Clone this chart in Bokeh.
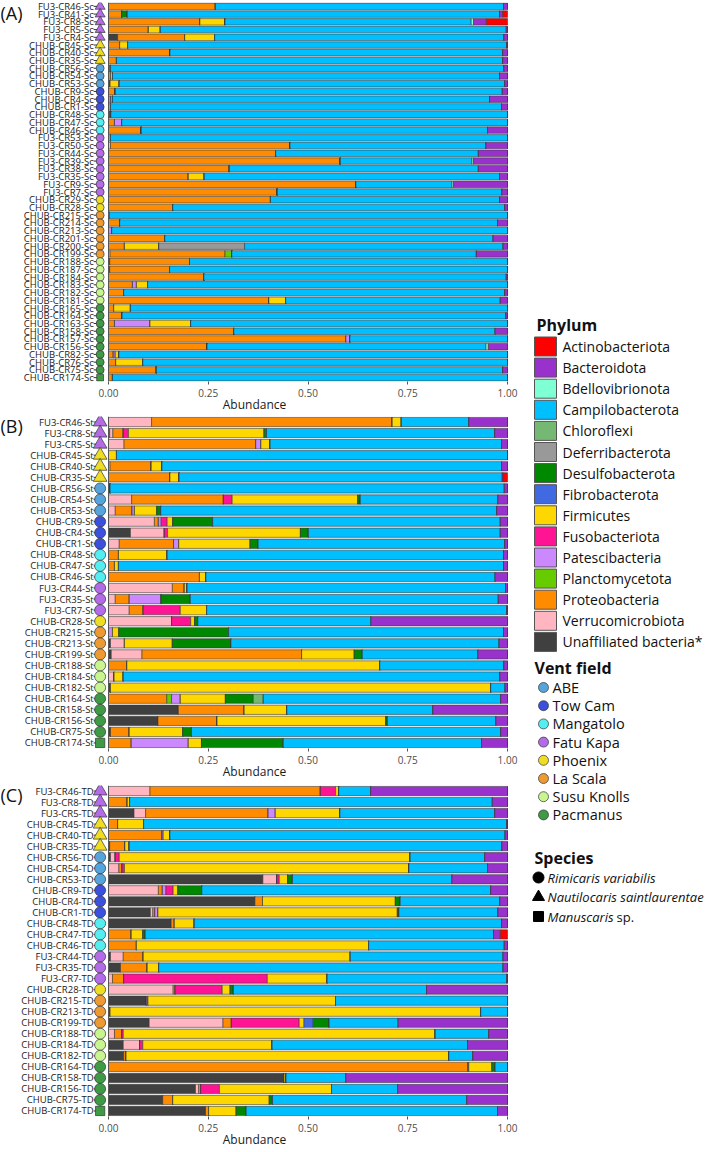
from bokeh.plotting import figure
from bokeh.layouts import row, column
from bokeh.models import ColumnDataSource, Range1d, FixedTicker, Span, Label
from bokeh.core.properties import value
from bokeh.embed import file_html
from bokeh.resources import INLINE

FONT = "Open Sans"

# ---------------- legend / colour data ----------------
phyla = ["Actinobacteriota", "Bacteroidota", "Bdellovibrionota", "Campilobacterota",
         "Chloroflexi", "Deferribacterota", "Desulfobacterota", "Fibrobacterota",
         "Firmicutes", "Fusobacteriota", "Patescibacteria", "Planctomycetota",
         "Proteobacteria", "Verrucomicrobiota", "Unaffiliated bacteria*"]
phylum_colors = ["#FF0000", "#9932CC", "#7FFFD4", "#00BFFF", "#74B874", "#999999",
                 "#008800", "#4169E1", "#FFD700", "#FF1493", "#CC88FF", "#66CC00",
                 "#FF8C00", "#FFB6C1", "#404040"]
stack_order = ["Unaffiliated bacteria*", "Verrucomicrobiota", "Proteobacteria",
               "Planctomycetota", "Patescibacteria", "Fusobacteriota", "Firmicutes",
               "Fibrobacterota", "Desulfobacterota", "Chloroflexi", "Deferribacterota",
               "Campilobacterota", "Bdellovibrionota", "Bacteroidota", "Actinobacteriota"]

vent_fields = ["ABE", "Tow Cam", "Mangatolo", "Fatu Kapa", "Phoenix", "La Scala",
               "Susu Knolls", "Pacmanus"]
vent_colors = ["#55A5DC", "#3B50DC", "#55EEF0", "#B46BE8", "#EEDD22", "#EE9A33",
               "#C8F590", "#3E9A44"]
species = ["Rimicaris variabilis", "Nautilocaris saintlaurentae", "Manuscaris"]
species_markers = ["circle", "triangle", "square"]

# ---------------- panel A (Sc) ----------------
samples_A = ["FU3-CR46-Sc", "FU3-CR41-Sc", "FU3-CR8-Sc", "FU3-CR5-Sc", "FU3-CR4-Sc",
             "CHUB-CR45-Sc", "CHUB-CR40-Sc", "CHUB-CR35-Sc", "CHUB-CR56-Sc", "CHUB-CR54-Sc",
             "CHUB-CR53-Sc", "CHUB-CR9-Sc", "CHUB-CR4-Sc", "CHUB-CR1-Sc", "CHUB-CR48-Sc",
             "CHUB-CR47-Sc", "CHUB-CR46-Sc", "FU3-CR53-Sc", "FU3-CR50-Sc", "FU3-CR44-Sc",
             "FU3-CR39-Sc", "FU3-CR38-Sc", "FU3-CR35-Sc", "FU3-CR9-Sc", "FU3-CR7-Sc",
             "CHUB-CR29-Sc", "CHUB-CR28-Sc", "CHUB-CR215-Sc", "CHUB-CR214-Sc", "CHUB-CR213-Sc",
             "CHUB-CR201-Sc", "CHUB-CR200-Sc", "CHUB-CR199-Sc", "CHUB-CR188-Sc", "CHUB-CR187-Sc",
             "CHUB-CR184-Sc", "CHUB-CR183-Sc", "CHUB-CR182-Sc", "CHUB-CR181-Sc", "CHUB-CR165-Sc",
             "CHUB-CR164-Sc", "CHUB-CR163-Sc", "CHUB-CR158-Sc", "CHUB-CR157-Sc", "CHUB-CR156-Sc",
             "CHUB-CR82-Sc", "CHUB-CR76-Sc", "CHUB-CR75-Sc", "CHUB-CR174-Sc"]
field_A = ["Fatu Kapa", "Fatu Kapa", "Fatu Kapa", "Fatu Kapa", "Fatu Kapa",
           "Phoenix", "Phoenix", "Phoenix", "ABE", "ABE", "ABE", "Tow Cam", "Tow Cam", "Tow Cam",
           "Mangatolo", "Mangatolo", "Mangatolo",
           "Fatu Kapa", "Fatu Kapa", "Fatu Kapa", "Fatu Kapa", "Fatu Kapa", "Fatu Kapa", "Fatu Kapa", "Fatu Kapa",
           "Phoenix", "Phoenix",
           "La Scala", "La Scala", "La Scala", "La Scala", "La Scala", "La Scala",
           "Susu Knolls", "Susu Knolls", "Susu Knolls", "Susu Knolls", "Susu Knolls", "Susu Knolls",
           "Pacmanus", "Pacmanus", "Pacmanus", "Pacmanus", "Pacmanus", "Pacmanus", "Pacmanus",
           "Pacmanus", "Pacmanus", "Pacmanus"]
shape_A = ["triangle"] * 8 + ["circle"] * 40 + ["square"]

A_unaff = [0, 0, 0, 0, .023, 0, 0, 0, .002, 0, 0, 0, 0, 0, .003, 0, 0, 0, 0, 0, 0, 0, 0, 0, 0,
           0, 0, 0, 0, 0, 0, 0, 0, .003, .003, 0, 0, 0, 0, 0, 0, 0, 0, 0, 0, 0, 0, 0, 0]
A_verruco = [0, 0, 0, 0, 0, 0, 0, 0, 0, 0, 0, 0, 0, 0, 0, 0, 0, 0, .005, 0, 0, 0, 0, 0, 0,
             0, 0, 0, 0, 0, 0, 0, .004, 0, 0, 0, 0, 0, 0, 0, 0, 0, 0, 0, 0, 0, 0, 0, 0]
A_proteo = [.268, .033, .229, .100, .168, .028, .154, .020, .003, .005, .004, .017, .005, .005, 0,
            .015, .082, .005, .450, .419, .581, .303, .200, .620, .423, .406, .161, .002, .028, 0,
            .141, .040, .288, .200, .150, .239, .060, .038, .402, .013, .034, .015, .314, .595,
            .247, .012, .018, .120, .010]
A_plancto = [0] * 32 + [.017] + [0] * 16
A_patesci = [0, 0, 0, 0, 0, 0, 0, 0, 0, 0, 0, 0, .005, 0, 0, .018, 0, 0, 0, 0, 0, 0, 0, 0, 0,
             0, 0, 0, 0, .008, 0, 0, 0, 0, 0, 0, .010, 0, 0, 0, 0, .089, 0, .010, 0, .005, 0, 0, 0]
A_firmi = [0, 0, .063, .030, .075, .020, 0, 0, 0, .005, .023, 0, 0, 0, .003, 0, 0, 0, 0, 0, 0, 0,
           .040, 0, 0, 0, 0, 0, 0, 0, 0, .086, 0, 0, 0, 0, .028, 0, .042, .042, 0, .102, 0, 0, 0,
           .009, .068, 0, 0]
A_desulfo = [0, .014] + [0] * 47
A_deferri = [0] * 31 + [.215] + [0] * 17
A_campilo = [.722, .933, .617, .867, .725, .950, .834, .968, .986, .970, .966, .970, .945, .980,
             .994, .967, .868, .995, .491, .508, .330, .624, .740, .241, .563, .574, .832, .998,
             .947, .992, .823, .648, .613, .797, .847, .758, .902, .955, .538, .945, .962, .794,
             .655, .395, .699, .974, .914, .868, .990]
A_bdello = [0, 0, .006, 0, 0, 0, 0, 0, 0, 0, 0, 0, 0, 0, 0, 0, 0, 0, 0, 0, .004, 0, 0, .004, 0,
            0, 0, 0, 0, 0, 0, 0, 0, 0, 0, 0, 0, 0, 0, 0, 0, 0, 0, 0, .006, 0, 0, 0, 0]
A_bactero = [.010, .008, .032, .003, .009, .002, .012, .012, .009, .020, .007, .013, .045, .015, 0,
             0, .050, 0, .054, .073, .085, .073, .020, .135, .014, .020, .007, 0, .025, 0, .036,
             .011, .078, 0, 0, .003, 0, .007, .018, 0, .004, 0, .031, 0, .048, 0, 0, .012, 0]
A_actino = [0, .012, .053] + [0] * 46

# ---------------- panel B (St) ----------------
samples_B = ["FU3-CR46-St", "FU3-CR8-St", "FU3-CR5-St", "CHUB-CR45-St", "CHUB-CR40-St",
             "CHUB-CR35-St", "CHUB-CR56-St", "CHUB-CR54-St", "CHUB-CR53-St", "CHUB-CR9-St",
             "CHUB-CR4-St", "CHUB-CR1-St", "CHUB-CR48-St", "CHUB-CR47-St", "CHUB-CR46-St",
             "FU3-CR44-St", "FU3-CR35-St", "FU3-CR7-St", "CHUB-CR28-St", "CHUB-CR215-St",
             "CHUB-CR213-St", "CHUB-CR199-St", "CHUB-CR188-St", "CHUB-CR184-St", "CHUB-CR182-St",
             "CHUB-CR164-St", "CHUB-CR158-St", "CHUB-CR156-St", "CHUB-CR75-St", "CHUB-CR174-St"]
samples_C = ["FU3-CR46-TD", "FU3-CR8-TD", "FU3-CR5-TD", "CHUB-CR45-TD", "CHUB-CR40-TD",
             "CHUB-CR35-TD", "CHUB-CR56-TD", "CHUB-CR54-TD", "CHUB-CR53-TD", "CHUB-CR9-TD",
             "CHUB-CR4-TD", "CHUB-CR1-TD", "CHUB-CR48-TD", "CHUB-CR47-TD", "CHUB-CR46-TD",
             "FU3-CR44-TD", "FU3-CR35-TD", "FU3-CR7-TD", "CHUB-CR28-TD", "CHUB-CR215-TD",
             "CHUB-CR213-TD", "CHUB-CR199-TD", "CHUB-CR188-TD", "CHUB-CR184-TD", "CHUB-CR182-TD",
             "CHUB-CR164-TD", "CHUB-CR158-TD", "CHUB-CR156-TD", "CHUB-CR75-TD", "CHUB-CR174-TD"]
field_BC = ["Fatu Kapa", "Fatu Kapa", "Fatu Kapa", "Phoenix", "Phoenix", "Phoenix",
            "ABE", "ABE", "ABE", "Tow Cam", "Tow Cam", "Tow Cam", "Mangatolo", "Mangatolo",
            "Mangatolo", "Fatu Kapa", "Fatu Kapa", "Fatu Kapa", "Phoenix", "La Scala", "La Scala",
            "La Scala", "Susu Knolls", "Susu Knolls", "Susu Knolls", "Pacmanus", "Pacmanus",
            "Pacmanus", "Pacmanus", "Pacmanus"]
shape_BC = ["triangle"] * 6 + ["circle"] * 23 + ["square"]

B_unaff = [0, .003, 0, 0, 0, 0, .004, 0, 0, 0, .055, 0, 0, 0, 0, 0, 0, 0, 0, 0, .005, .007, 0, 0,
           .005, 0, .175, .124, .005, 0]
B_verruco = [.108, .008, .039, 0, .004, 0, 0, .058, .017, .115, .085, .027, 0, 0, 0, .160, .017,
             .052, .158, 0, .035, .077, 0, .014, 0, 0, 0, 0, 0, 0]
B_proteo = [.603, .026, .330, 0, .103, .154, 0, .230, .042, .010, 0, .136, .025, .015, .228, .030,
            .035, .035, 0, 0, 0, .400, .046, 0, 0, .146, .165, .148, .047, .057]
B_plancto = [0] * 25 + [.012] + [0] * 4
B_patesci = [0, 0, .013, 0, 0, 0, 0, 0, .006, .007, 0, .013, 0, 0, 0, 0, .080, 0, 0, .010, 0, 0,
             0, 0, 0, .022, 0, 0, 0, .143]
B_fuso = [0, .013, 0, 0, 0, 0, 0, .022, 0, .015, .008, 0, 0, 0, 0, 0, 0, .093, .048, 0, 0, 0, 0,
          0, 0, 0, 0, 0, 0, 0]
B_firmi = [.023, .340, .023, .020, .027, .023, 0, .315, .056, .014, .333, .179, .122, .010, .016,
           .007, 0, .066, .010, .016, .120, .132, .634, .023, .953, .113, .107, .423, .134, .033]
B_desulfo = [0, .006, 0, 0, 0, 0, 0, .006, .010, .100, .020, .020, 0, 0, 0, 0, .073, 0, .008,
             .275, .147, .020, 0, 0, 0, .070, 0, .004, .022, .205]
B_chloro = [0] * 25 + [.025] + [0] * 4
B_campilo = [.169, .572, .580, .980, .851, .810, .988, .345, .842, .721, .481, .618, .843, .965,
             .725, .798, .772, .752, .434, .689, .672, .290, .311, .944, .036, .595, .366, .272,
             .775, .497]
B_bactero = [.097, .032, .015, 0, .015, .003, .008, .024, .027, .018, .018, .007, .010, .010, .031,
             .005, .023, .002, .342, .010, .021, .074, .009, .019, .006, .017, .187, .029, .017, .065]
B_actino = [0, 0, 0, 0, 0, .010] + [0] * 24

# ---------------- panel C (TD) ----------------
C_unaff = [0, 0, .064, 0, 0, .003, .005, 0, .387, 0, .367, .105, .157, 0, 0, .005, .030, 0, 0,
           .095, 0, .102, 0, .037, .038, 0, .440, .218, .136, .243]
C_verruco = [.104, 0, .029, 0, 0, 0, .012, .026, .035, .125, 0, .006, 0, 0, 0, .032, 0, .010,
             .162, 0, 0, .185, .015, .041, 0, 0, 0, .008, 0, 0]
C_proteo = [.427, .047, .307, .023, .133, .038, 0, .008, 0, .010, .019, .005, .008, .057, .070,
            .050, .067, .028, .005, 0, .004, .021, .018, 0, .006, .900, 0, .005, .025, .008]
C_patesci = [0, 0, .018, 0, .004, 0, 0, 0, 0, .009, 0, .008, 0, 0, 0, 0, 0, 0, 0, .004, 0, 0, 0,
             0, 0, .003, 0, 0, 0, 0]
C_fuso = [.038, 0, 0, 0, 0, 0, .010, .006, .006, .018, 0, 0, 0, 0, 0, 0, 0, .360, .118, 0, 0, .170,
          .004, .008, 0, 0, 0, .047, 0, 0]
C_firmi = [.008, .006, .162, .065, .017, .011, .729, .713, .021, .012, .333, .600, .050, .029, .582,
           .519, .029, .150, .020, .470, .929, .012, .781, .324, .809, .058, .005, .281, .242, .069]
C_fibro = [0] * 21 + [.023] + [0] * 8
C_desulfo = [0, 0, 0, 0, 0, 0, 0, 0, .012, .060, .012, .004, 0, .006, 0, 0, 0, 0, .008, 0, 0, .040,
             0, 0, 0, .008, 0, 0, .008, .025]
C_campilo = [.080, .909, .388, .910, .840, .934, .187, .197, .400, .724, .250, .248, .770, .873,
             .340, .383, .863, .450, .484, .431, .067, .173, .134, .490, .060, .031, .150, .166,
             .487, .630]
C_bactero = [.343, .038, .032, .002, .006, .014, .057, .050, .139, .042, .019, .024, .015, .017, .008,
             .011, .011, .002, .203, 0, 0, .274, .047, .100, .087, 0, .405, .275, .102, .025]
C_actino = [0] * 13 + [.018] + [0] * 16

data_A = {"Unaffiliated bacteria*": A_unaff, "Verrucomicrobiota": A_verruco,
          "Proteobacteria": A_proteo, "Planctomycetota": A_plancto, "Patescibacteria": A_patesci,
          "Firmicutes": A_firmi, "Desulfobacterota": A_desulfo, "Deferribacterota": A_deferri,
          "Campilobacterota": A_campilo, "Bdellovibrionota": A_bdello, "Bacteroidota": A_bactero,
          "Actinobacteriota": A_actino}
data_B = {"Unaffiliated bacteria*": B_unaff, "Verrucomicrobiota": B_verruco,
          "Proteobacteria": B_proteo, "Planctomycetota": B_plancto, "Patescibacteria": B_patesci,
          "Fusobacteriota": B_fuso, "Firmicutes": B_firmi, "Desulfobacterota": B_desulfo,
          "Chloroflexi": B_chloro, "Campilobacterota": B_campilo, "Bacteroidota": B_bactero,
          "Actinobacteriota": B_actino}
data_C = {"Unaffiliated bacteria*": C_unaff, "Verrucomicrobiota": C_verruco,
          "Proteobacteria": C_proteo, "Patescibacteria": C_patesci, "Fusobacteriota": C_fuso,
          "Firmicutes": C_firmi, "Fibrobacterota": C_fibro, "Desulfobacterota": C_desulfo,
          "Campilobacterota": C_campilo, "Bacteroidota": C_bactero, "Actinobacteriota": C_actino}

x_ticks = [0, 0.25, 0.5, 0.75, 1.0]
x_tick_labels = ["0.00", "0.25", "0.50", "0.75", "1.00"]

color_of = dict(zip(phyla, phylum_colors))
vent_color_of = dict(zip(vent_fields, vent_colors))

# layout constants (pixels / axis positions)
FRAME_W = 508
X_START, X_END = -0.2707, 1.0025
LABEL_X, TICK_X, MARK_X = -0.037, -0.031, -0.021


def make_panel(samples, fields, shapes, data, letter, frame_h, top, bottom, msize, letter_dy):
    n = len(samples)
    ys = list(range(n - 1, -1, -1))
    cols = {"y": ys}
    for ph in stack_order:
        cols[ph] = data.get(ph, [0] * n)
    totals = [sum(cols[ph][i] for ph in stack_order) for i in range(n)]
    for ph in stack_order:
        cols[ph] = [v / t for v, t in zip(cols[ph], totals)]
    src = ColumnDataSource(cols)

    p = figure(frame_width=FRAME_W, frame_height=frame_h,
               x_range=Range1d(X_START, X_END), y_range=Range1d(-0.5, n - 0.5),
               output_backend="svg", toolbar_location=None,
               min_border_left=0, min_border_right=15,
               min_border_top=top, min_border_bottom=bottom)
    p.hbar_stack(stack_order, y="y", height=0.84, source=src,
                 fill_color=[color_of[s] for s in stack_order],
                 line_color="#3a3a3a", line_width=0.6)

    msizes = [msize * (1.25 if s == "triangle" else (0.85 if s == "square" else 1.0)) for s in shapes]
    msrc = ColumnDataSource(dict(
        y=ys, x=[MARK_X] * n, tx=[TICK_X] * n, lx=[LABEL_X] * n, name=samples,
        marker=shapes, size=msizes, color=[vent_color_of[f] for f in fields]))
    # sample labels (y axis) and their tick marks
    p.text(x="lx", y="y", text="name", source=msrc, text_align="right",
           text_baseline="middle", text_font=value(FONT), text_font_size="9.5px",
           text_color="#1a1a1a")
    p.scatter(x="tx", y="y", marker="dash", size=5, line_color="#333333", line_width=1,
              source=msrc)
    p.scatter(x="x", y="y", marker="marker", size="size", fill_color="color",
              line_color="#333333", line_width=0.7, source=msrc)

    p.add_layout(Span(location=0, dimension="height", line_color="#555555", line_width=1))

    p.xgrid.visible = False
    p.ygrid.visible = False
    p.yaxis.visible = False
    p.outline_line_color = None
    p.background_fill_color = "white"

    p.xaxis.ticker = FixedTicker(ticks=x_ticks)
    p.xaxis.major_label_overrides = {t: l for t, l in zip(x_ticks, x_tick_labels)}
    p.xaxis.axis_line_color = None
    p.xaxis.minor_tick_line_color = None
    p.xaxis.major_tick_in = 0
    p.xaxis.major_tick_out = 3
    p.xaxis.major_tick_line_color = "#555555"
    p.xaxis.major_label_standoff = 4
    p.xaxis.major_label_text_font = FONT
    p.xaxis.major_label_text_font_size = "10px"
    p.xaxis.major_label_text_color = "#4d4d4d"
    p.xaxis.axis_label = "Abundance"
    p.xaxis.axis_label_standoff = -4
    p.xaxis.axis_label_text_font = FONT
    p.xaxis.axis_label_text_font_size = "12px"
    p.xaxis.axis_label_text_font_style = "normal"
    p.xaxis.axis_label_text_color = "#1a1a1a"

    p.add_layout(Label(x=0, y=frame_h - letter_dy, x_units="screen", y_units="screen",
                       text=letter, text_font=FONT, text_font_size="18px",
                       text_baseline="middle", text_color="#111111"))
    return p


pA = make_panel(samples_A, field_A, shape_A, data_A, "(A)", 379, 2, 34, 8, 10)
pB = make_panel(samples_B, field_BC, shape_BC, data_B, "(B)", 332, 1, 34, 11, 9)
pC = make_panel(samples_C, field_BC, shape_BC, data_C, "(C)", 331, 3, 34, 11, 9)

# ---------------- legend figure (pixel coordinates, y down) ----------------
LW, LH = 186, 1148
leg = figure(width=LW, height=LH, x_range=Range1d(0, LW), y_range=Range1d(LH, 0),
             output_backend="svg", toolbar_location=None,
             min_border=0, min_border_left=0, min_border_right=0,
             min_border_top=0, min_border_bottom=0)
leg.axis.visible = False
leg.xgrid.visible = False
leg.ygrid.visible = False
leg.outline_line_color = None

title_kw = dict(text_font=value(FONT), text_font_size="16px", text_font_style="bold",
                text_baseline="middle", text_color="#111111")
item_kw = dict(text_font=value(FONT), text_font_size="14px", text_baseline="middle",
               text_color="#111111")

# Phylum
ph_y0, ph_dy = 346, 21.1
ph_ys = [ph_y0 + ph_dy * i for i in range(len(phyla))]
leg.text(x=[13], y=[324], text=["Phylum"], **title_kw)
leg.rect(x=[22] * len(phyla), y=ph_ys, width=22, height=19, fill_color=phylum_colors,
         line_color="#555555", line_width=1)
leg.text(x=[39] * len(phyla), y=ph_ys, text=phyla, **item_kw)

# Vent field
vf_y0, vf_dy = 687, 18.2
vf_ys = [vf_y0 + vf_dy * i for i in range(len(vent_fields))]
leg.text(x=[11], y=[667], text=["Vent field"], **title_kw)
leg.scatter(x=[20] * len(vent_fields), y=vf_ys, size=10, marker="circle",
            fill_color=vent_colors, line_color="#333333", line_width=0.7)
vf_kw = dict(item_kw)
vf_kw["text_font_size"] = "14.5px"
leg.text(x=[29] * len(vent_fields), y=vf_ys, text=vent_fields, **vf_kw)

# Species
sp_y0, sp_dy = 877, 19.5
sp_ys = [sp_y0 + sp_dy * i for i in range(len(species))]
leg.text(x=[11], y=[857], text=["Species"], **title_kw)
leg.scatter(x=[15] * len(species), y=sp_ys, marker=species_markers, size=[11, 12, 10],
            fill_color="black", line_color="black")
sp_kw = dict(item_kw)
sp_kw["text_font_size"] = "13px"
leg.text(x=[24] * len(species), y=sp_ys, text=species, text_font_style="italic", **sp_kw)
leg.text(x=[93], y=[sp_ys[2]], text=["sp."], **sp_kw)

layout = row(column(pA, pB, pC), leg)

with open("out.html", "w") as f:
    f.write(file_html(layout, INLINE))
